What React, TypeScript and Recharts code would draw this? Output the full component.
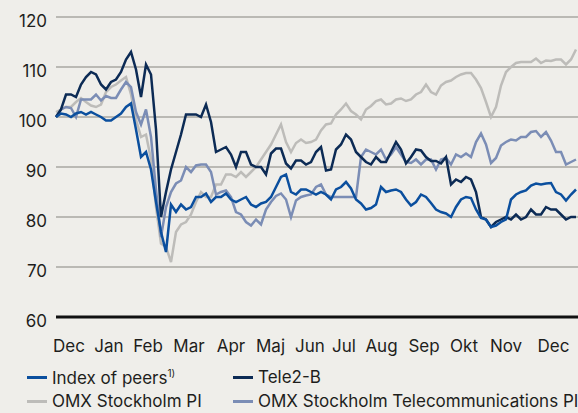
import { LineChart, Line, XAxis, YAxis, CartesianGrid } from 'recharts';

// one sample roughly every 2-3 trading days, Dec to Dec
const peers = [
  100, 100.7, 100.5, 100, 100.7, 101, 100.5, 101, 100.5, 100, 99.3, 99.3, 100, 100.7, 102, 102.7,
  97.5, 92, 93, 89.5, 83, 77, 73, 82.5, 81, 82.5, 81.5, 82, 84, 84, 84.7, 83, 84, 84, 84.7, 83.5,
  83, 83.5, 84, 82.5, 82, 82.7, 83, 84, 86, 88, 88.5, 85, 84.5, 85.5, 85.5, 85, 84.5, 85, 84.5, 83.5,
  85.5, 86, 87, 85.7, 83.5, 82.7, 81.5, 81.8, 82.5, 86, 85, 85.3, 85.5, 85, 83.5, 82.3, 83, 84.5, 84,
  82.8, 81.5, 81, 80.7, 80, 82, 83.5, 84, 83.8, 81.5, 79.8, 79.5, 78, 78.3, 79, 79.5, 83.5, 84.5, 85,
  85.3, 86.3, 86.7, 86.5, 86.7, 86.8, 85, 84.5, 83.3, 84.5, 85.5,
];
const tele2 = [
  100, 101.5, 104.5, 104.5, 104, 106.5, 108, 109, 108.5, 106.5, 105.5, 107, 107.5, 109, 111.5, 113,
  109.5, 104, 110.5, 108.5, 97.5, 80, 85, 89.5, 93, 96.5, 100.5, 100.5, 100.5, 100, 102.5, 99, 93,
  93.5, 94, 92.5, 90, 93, 93, 90.5, 90, 90, 88.5, 92.7, 93.7, 93.7, 90.7, 89.7, 91.3, 91.3, 90.5, 91,
  93, 94, 89.3, 89.5, 93.5, 94.5, 96.5, 95.5, 93, 92, 91, 90.5, 92, 91, 91, 93, 95, 93.5, 90.7, 92,
  93.5, 93.3, 92, 91.2, 91.2, 90.7, 92, 86.5, 87.5, 87, 88, 87.5, 85, 80, 79.5, 78, 79, 79.5, 80,
  79.5, 80.5, 79.5, 80, 81.5, 80.5, 80.5, 82, 81.5, 81.5, 80.5, 79.5, 80, 80,
];
const omx = [
  101, 101.5, 102, 102, 103, 103.8, 103, 102.3, 102, 102.5, 105, 106, 106.5, 107.3, 108, 104.5, 99.5,
  96, 96.5, 91.5, 82, 74.7, 74, 71, 77, 78.5, 79, 80.5, 83, 85, 84, 84, 86.5, 86.5, 88.5, 88.5, 88,
  89, 88, 89, 90, 91.5, 93, 94.5, 96.5, 98.5, 95, 93, 94.8, 95.5, 94.8, 95, 95.5, 97.3, 98.5, 98.7,
  100.5, 101.5, 102.7, 101.2, 100.5, 99.5, 101.5, 102.2, 103.2, 103.5, 102.5, 102.7, 103.5, 103.7,
  103.2, 103.5, 104.5, 105, 106.5, 105, 104.5, 106.3, 107, 107.3, 108, 108.5, 108.8, 108.8, 107.5,
  105.8, 103, 100, 102, 106.3, 109, 110, 110.8, 111, 111, 111, 111.7, 110.8, 111.3, 111.2, 111.5,
  111.5, 110.5, 111.5, 113.5,
];
const omxTel = [
  100, 101.5, 102, 101.8, 100, 103.5, 103.5, 103.5, 104.5, 103.3, 104.2, 103.8, 103.8, 105.5, 107,
  106, 101, 98.5, 101.5, 96, 85.5, 76, 82, 85, 86.7, 87.3, 90, 89, 90.3, 90.5, 90.5, 89, 84.5, 85,
  85.3, 84, 81, 80.5, 79, 78.3, 79.5, 78.5, 81.5, 83, 84.2, 84.7, 83.5, 80, 83.3, 84, 84.3, 84.5, 86,
  86.5, 84.5, 84, 84, 84, 84, 84, 84, 92, 93.5, 93, 92.5, 93.5, 91.5, 92.5, 94, 92.5, 91, 90.8, 91.5,
  90.5, 91.5, 91.5, 89.5, 91.5, 91.8, 90.5, 92.5, 92, 92.7, 92, 95, 96.7, 94.5, 90.8, 91.8, 94.3, 95,
  95.5, 95.3, 96, 96, 97, 97.2, 96, 97, 95.3, 93, 93, 90.5, 91, 91.5,
];

const months = ['Dec', 'Jan', 'Feb', 'Mar', 'Apr', 'Maj', 'Jun', 'Jul', 'Aug', 'Sep', 'Okt', 'Nov', 'Dec'];
const monthTicks = [2.6, 10.6, 18.4, 26.6, 35, 42.9, 50.8, 57.6, 65.1, 73.6, 81.6, 90, 99.5];
const yTicks = [60, 70, 80, 90, 100, 110, 120];

const data = peers.map((v, i) => ({
  d: i,
  peers: v,
  tele2: tele2[i],
  omx: omx[i],
  omxTel: omxTel[i],
}));

const FONT = 'Inter, "Noto Sans", sans-serif';
const INK = '#1e1e1c';

const legendItems = [
  { name: 'Index of peers', sup: '1)', color: '#0b4f9e' },
  { name: 'Tele2-B', color: '#0c2b55' },
  { name: 'OMX Stockholm PI', color: '#bdbcb9' },
  { name: 'OMX Stockholm Telecommunications PI', color: '#7b8db5' },
];

const XTick = ({ x, y, index }: any) => (
  <text x={x} y={y + 33} textAnchor="middle" fill={INK} fontSize={17} fontFamily={FONT}>
    {months[index]}
  </text>
);

const YTick = ({ x, y, payload }: any) => (
  <text x={x} y={y} dy={9.5} textAnchor="end" fill={INK} fontSize={17} fontFamily={FONT}>
    {payload.value}
  </text>
);

export default function App() {
  return (
    <div
      style={{
        position: 'fixed',
        left: 0,
        top: 0,
        width: 578,
        height: 413,
        overflow: 'hidden',
        background: '#efeeea',
      }}
    >
      <LineChart width={600} height={360} data={data} margin={{ top: 17, right: 19, left: 0, bottom: 0 }}>
        <CartesianGrid horizontal vertical={false} stroke="#a9a7a2" strokeWidth={1.5} />
        <XAxis
          dataKey="d"
          type="number"
          domain={[0, 105]}
          ticks={monthTicks}
          tick={<XTick />}
          tickLine={false}
          tickSize={0}
          height={43}
          axisLine={{ stroke: '#111', strokeWidth: 3 }}
          interval={0}
        />
        <YAxis
          domain={[60, 120]}
          ticks={yTicks}
          width={56}
          tick={<YTick />}
          tickLine={false}
          axisLine={false}
          tickSize={0}
          tickMargin={9}
        />
        <Line dataKey="omx" stroke="#bdbcb9" strokeWidth={2.5} dot={false} isAnimationActive={false} />
        <Line dataKey="omxTel" stroke="#7b8db5" strokeWidth={2.5} dot={false} isAnimationActive={false} />
        <Line dataKey="tele2" stroke="#0c2b55" strokeWidth={2.5} dot={false} isAnimationActive={false} />
        <Line dataKey="peers" stroke="#0b4f9e" strokeWidth={2.5} dot={false} isAnimationActive={false} />
      </LineChart>
      <div
        style={{
          position: 'absolute',
          left: 27,
          top: 366,
          width: 620,
          display: 'grid',
          gridTemplateColumns: '206px 400px',
          rowGap: 2,
          fontFamily: FONT,
          fontSize: 17,
          color: INK,
          whiteSpace: 'nowrap',
        }}
      >
        {legendItems.map((it) => (
          <div key={it.name} style={{ display: 'flex', alignItems: 'center', height: 22 }}>
            <span style={{ width: 20, height: 3, background: it.color, marginRight: 5 }} />
            <span>
              {it.name}
              {it.sup && <sup style={{ fontSize: 10 }}>{it.sup}</sup>}
            </span>
          </div>
        ))}
      </div>
    </div>
  );
}
